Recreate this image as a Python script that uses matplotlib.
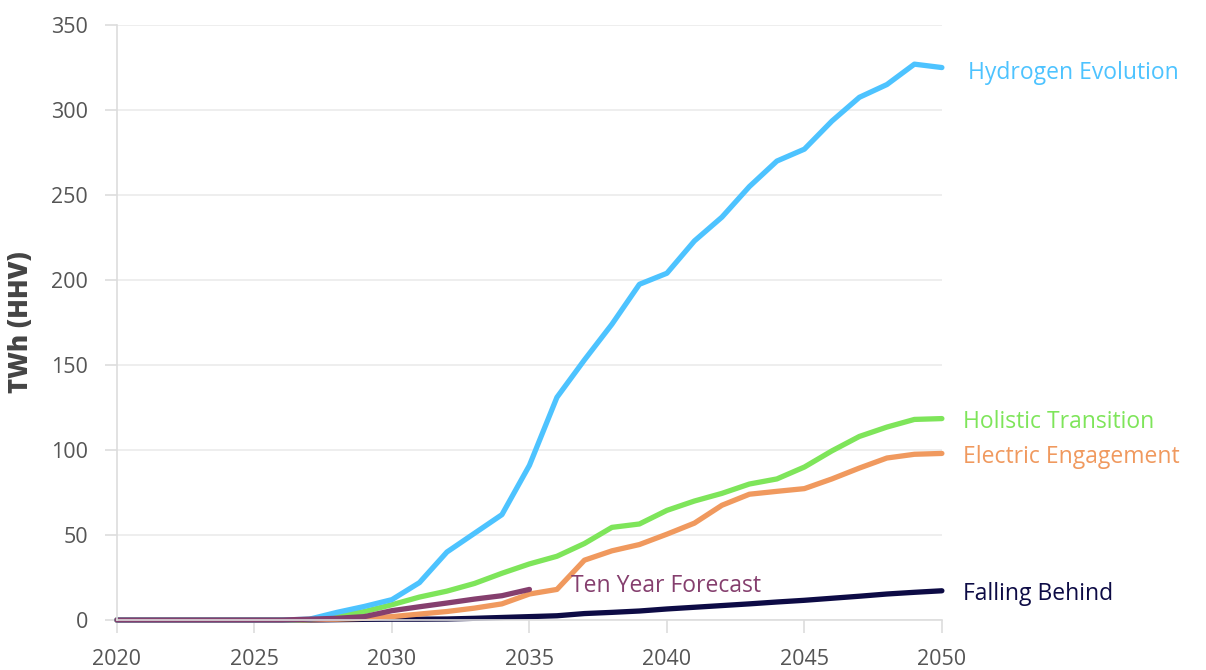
import matplotlib
matplotlib.use("Agg")
import matplotlib.pyplot as plt

plt.rcParams["font.family"] = ["Open Sans", "DejaVu Sans"]

years = list(range(2020, 2051))

hydrogen_evolution = [0, 0, 0, 0, 0, 0, 0, 0.5, 4.5, 8, 12, 22, 40, 51, 62, 91, 131, 153, 174, 197.5,
                      204, 223, 237, 255, 270, 277, 293.5, 307.5, 315, 327, 325]
holistic_transition = [0, 0, 0, 0, 0, 0, 0, 0.3, 2.5, 5, 9, 13.5, 17, 21.5, 27.5, 33, 37.5, 45, 54.5, 56.5,
                       64.5, 70, 74.5, 80, 83, 90, 99.5, 108, 113.5, 118, 118.5]
electric_engagement = [0, 0, 0, 0, 0, 0, 0, 0.2, 0.5, 1, 2, 3.5, 5, 7, 9.5, 15.3, 18, 35.2, 40.7, 44.4,
                       50.5, 57, 67.5, 74, 75.7, 77.3, 83, 89.4, 95.3, 97.5, 98]
falling_behind = [0, 0, 0, 0, 0, 0, 0, 0, 0.2, 0.4, 0.5, 0.5, 0.6, 1, 1.5, 2, 2.5, 3.8, 4.5, 5.3,
                  6.5, 7.5, 8.5, 9.5, 10.6, 11.6, 12.8, 14, 15.3, 16.3, 17.2]
ten_year_years = list(range(2020, 2036))
ten_year_forecast = [0, 0, 0, 0, 0, 0, 0, 0.5, 1, 2, 5.5, 7.8, 10, 12.3, 14.3, 18]

series = [
    (years, falling_behind, "#0d0b45"),
    (years, electric_engagement, "#f0995e"),
    (years, holistic_transition, "#7ee55a"),
    (years, hydrogen_evolution, "#4dc3ff"),
    (ten_year_years, ten_year_forecast, "#853f6e"),
]

fig = plt.figure(figsize=(12.06, 6.70), dpi=100)
ax = fig.add_axes([0.097, 0.0746, 0.684, 0.888])

for xs, ys, col in series:
    ax.plot(xs, ys, color=col, linewidth=3.8, solid_capstyle="round",
            solid_joinstyle="round", clip_on=False)

# end-of-line labels
lab = dict(fontsize=16.5, va="center")
ax.text(2050.95, 322, "Hydrogen Evolution", color="#4dc3ff", **lab)
ax.text(2050.75, 116.5, "Holistic Transition", color="#7ee55a", **lab)
ax.text(2050.75, 96, "Electric Engagement", color="#f0995e", **lab)
ax.text(2050.75, 15.5, "Falling Behind", color="#0d0b45", **lab)
ax.text(2036.5, 20, "Ten Year Forecast", color="#853f6e", **lab)

ax.set_xlim(2020, 2050)
ax.set_ylim(0, 350)
ax.set_xticks(range(2020, 2051, 5))
ax.set_yticks(range(0, 351, 50))
ax.grid(axis="y", color="#ebebeb", linewidth=1.2)
ax.set_axisbelow(True)

for side in ["top", "right"]:
    ax.spines[side].set_visible(False)
for side in ["left", "bottom"]:
    ax.spines[side].set_color("#dddddd")
    ax.spines[side].set_linewidth(1.2)

ax.tick_params(axis="both", colors="#dddddd", labelcolor="#555555", labelsize=15.5,
               length=9, width=1.2)
ax.tick_params(axis="y", pad=12)
ax.tick_params(axis="x", pad=12)

ax.set_ylabel("TWh (HHV)", fontsize=18.5, fontweight="heavy", color="#444444", labelpad=12)

fig.savefig("out.png", dpi=100)
